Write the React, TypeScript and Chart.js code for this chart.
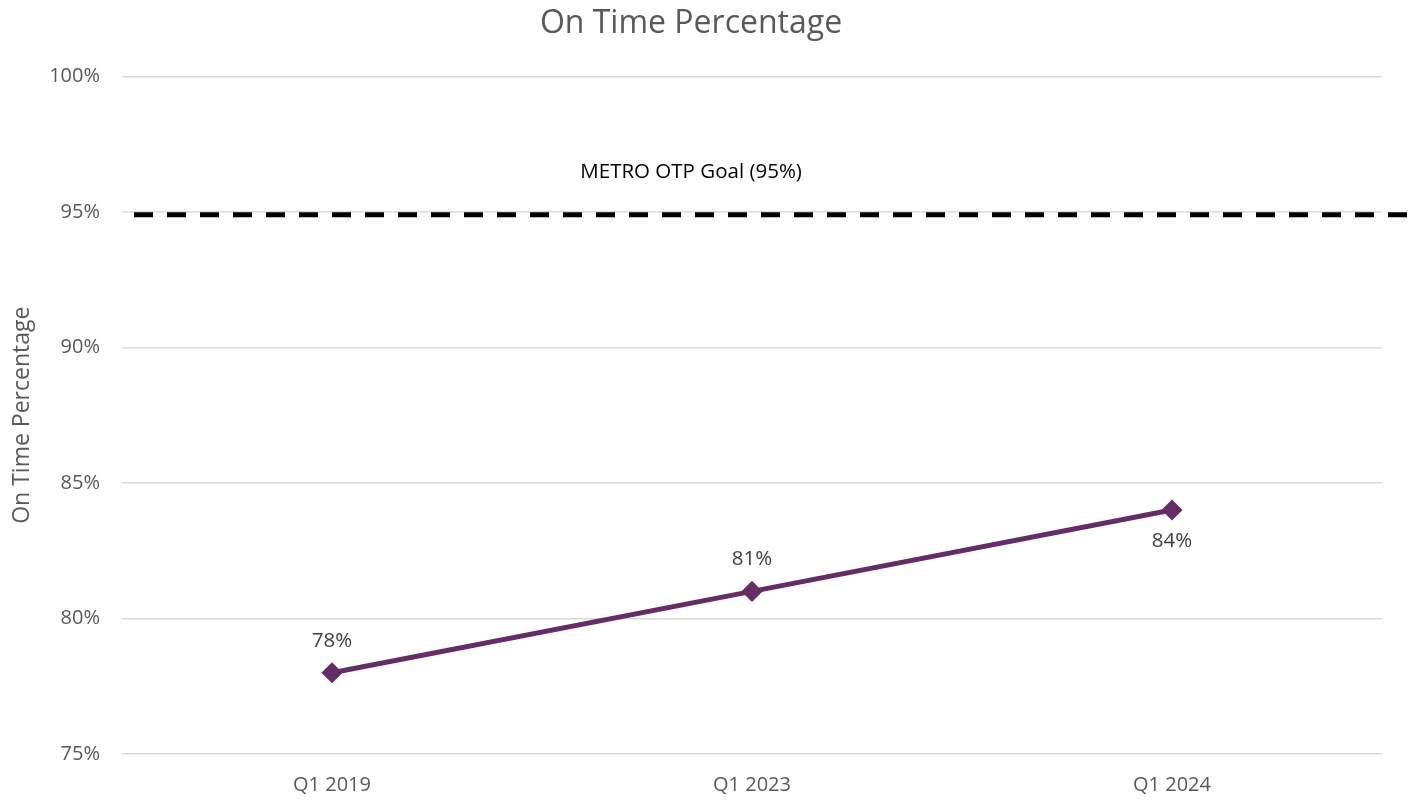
import React, { useEffect, useRef } from "react";
import { Chart, registerables } from "chart.js";

Chart.register(...registerables);

const categories = ["Q1 2019", "Q1 2023", "Q1 2024"];
const onTimeValues = [78, 81, 84];
const labelPlacement = ["above", "above", "below"];
const goalValue = 94.9;
const goalLabel = "METRO OTP Goal (95%)";
const goalLabelPos = { x: 0.855, y: 96.45 };
const yMin = 75;
const yMax = 100;
const yStep = 5;

const FONT = "'Open Sans', sans-serif";

const goalPlugin = {
  id: "goalLine",
  afterDatasetsDraw(chart: any) {
    const { ctx, chartArea, scales } = chart;
    const y = scales.y.getPixelForValue(goalValue);
    ctx.save();
    ctx.strokeStyle = "#000000";
    ctx.lineWidth = 5;
    ctx.setLineDash([19, 14]);
    ctx.beginPath();
    ctx.moveTo(chartArea.left + 12, y);
    ctx.lineTo(chart.width, y);
    ctx.stroke();
    ctx.setLineDash([]);
    ctx.fillStyle = "#000000";
    ctx.font = `20.5px ${FONT}`;
    ctx.textAlign = "center";
    ctx.textBaseline = "middle";
    ctx.fillText(
      goalLabel,
      scales.x.getPixelForValue(goalLabelPos.x),
      scales.y.getPixelForValue(goalLabelPos.y)
    );
    ctx.restore();
  },
};

const dataLabelPlugin = {
  id: "dataLabels",
  afterDatasetsDraw(chart: any) {
    const { ctx } = chart;
    const meta = chart.getDatasetMeta(0);
    ctx.save();
    ctx.fillStyle = "#404040";
    ctx.font = `20.5px ${FONT}`;
    ctx.textAlign = "center";
    ctx.textBaseline = "middle";
    meta.data.forEach((pt: any, i: number) => {
      const dy = labelPlacement[i] === "above" ? -32 : 31;
      ctx.fillText(`${onTimeValues[i]}%`, pt.x, pt.y + dy);
    });
    ctx.restore();
  },
};

export default function App() {
  const ref = useRef<HTMLCanvasElement>(null);
  useEffect(() => {
    if (!ref.current) return;
    const chart = new Chart(ref.current, {
      type: "line",
      data: {
        labels: categories,
        datasets: [
          {
            label: "On Time Percentage",
            data: onTimeValues,
            borderColor: "#652D66",
            backgroundColor: "#652D66",
            borderWidth: 5,
            pointStyle: "rectRot",
            pointRadius: 7,
            pointBackgroundColor: "#652D66",
            pointBorderColor: "#652D66",
            tension: 0,
          },
        ],
      },
      options: {
        responsive: false,
        animation: false,
        layout: { padding: { left: 0, right: 30, top: 0, bottom: 0 } },
        plugins: {
          legend: { display: false },
          tooltip: { enabled: false },
          title: {
            display: true,
            text: "On Time Percentage",
            color: "#595959",
            font: { family: FONT, size: 32, weight: "normal" },
            padding: { top: 5, bottom: 33 },
          },
        },
        scales: {
          x: {
            offset: true,
            grid: { display: false, drawTicks: false },
            border: { display: false },
            ticks: {
              color: "#595959",
              font: { family: FONT, size: 20 },
              padding: 19,
            },
            afterFit(scale: any) {
              scale.height = 46;
            },
          },
          y: {
            min: yMin,
            max: yMax,
            grid: { color: "#d9d9d9", lineWidth: 1.5, drawTicks: false },
            border: { display: false },
            ticks: {
              stepSize: yStep,
              color: "#595959",
              font: { family: FONT, size: 20 },
              padding: 22,
              callback: (v: any) => `${v}%`,
            },
            title: {
              display: true,
              text: "On Time Percentage",
              color: "#595959",
              font: { family: FONT, size: 23 },
              padding: { top: 9, bottom: 0 },
            },
            afterFit(scale: any) {
              scale.width = 122;
            },
          },
        },
      },
      plugins: [goalPlugin, dataLabelPlugin],
    });
    return () => chart.destroy();
  }, []);
  return (
    <div style={{ position: "fixed", left: 0, top: 0, width: 1412, height: 800, background: "#fff" }}>
      <canvas ref={ref} width={1412} height={800} />
    </div>
  );
}
